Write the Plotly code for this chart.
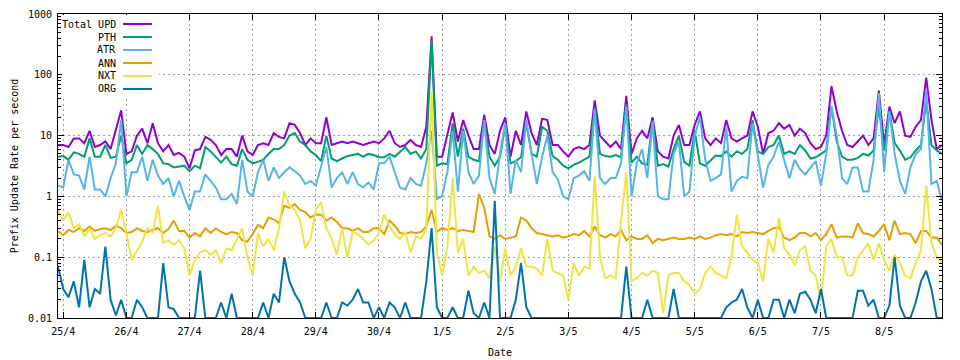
import plotly.graph_objects as go
import pandas as pd

# ---- data (2-hourly samples, 24/4 22:00 .. 8/5 22:00) ----
start_time = "2019-04-24 22:00"
n_points = 169

total_upd = [
    7, 7, 6.5, 9, 9, 7.5, 12, 6.5, 7, 8, 6, 12, 26, 5, 5.5, 10, 13, 7.5, 16, 7.5, 5.5, 7, 4.8, 5.2, 4.5, 2.9, 5.7, 6,
    9.5, 8.5, 7, 4.8, 6, 6, 4.5, 10, 5.5, 4.8, 7, 7.5, 7, 11, 9.5, 9, 16, 15, 11, 7, 9, 7.5, 7.5, 20, 7, 7.5, 8, 7.5,
    8, 7.5, 7, 7.5, 8, 7.5, 9, 12, 7.5, 6.5, 7, 8.5, 7, 6.5, 14, 430, 4.5, 4.5, 10, 24, 8, 18, 10, 6, 6, 22, 7, 5,
    12, 20, 4.5, 12, 7, 25, 11, 7, 19, 18, 7, 7, 5.5, 4.5, 6, 6.5, 6, 7, 38, 10, 8, 6.5, 8, 6, 45, 5, 9,
    12, 9, 20, 5.5, 4.5, 4.2, 10, 15, 7, 7, 15, 25, 9, 7, 9, 7.5, 18, 9, 8, 9, 10, 25, 14, 5, 11, 12, 16, 13,
    15, 10, 13, 11, 7.5, 6, 6.5, 10, 65, 25, 12, 7, 6.5, 8, 10, 7, 9, 55, 7, 30, 16, 25, 10, 9.5, 14, 18, 90, 18, 6, 7,
]
pth = [
    4.5, 4.6, 4, 5.3, 5, 4.5, 9, 4.5, 4.5, 7, 4.3, 4.5, 10, 3.5, 4, 7, 5, 7, 6, 5, 3.5, 3.4, 3, 3.1, 3.2, 2.6, 3.2, 2.9,
    6.5, 5.5, 4.5, 3.6, 4.5, 3.4, 3.2, 6, 4, 3.5, 3.7, 4, 5, 6, 6, 7, 10, 11, 8, 7, 5.5, 4.8, 3.8, 10, 4.2, 3.8, 4.2, 4.6,
    4.8, 5, 4.5, 5, 4.8, 4.4, 4.4, 5, 4.5, 5.5, 6.5, 5, 5.5, 4.2, 6, 365, 3.2, 3.5, 3.4, 16, 4.5, 13, 4.5, 4, 3.8, 17, 4.5, 3.2,
    4.5, 15, 3.5, 3.8, 4.4, 16, 5, 4.5, 14, 12, 4.6, 4, 3.2, 2.9, 3.3, 3.6, 4, 4.5, 30, 5, 4.6, 4.5, 4.8, 4.4, 33, 3.6, 4.5,
    3.5, 3.3, 18, 3.2, 3.4, 3.1, 6, 10, 3.7, 3.2, 12, 3.5, 3.2, 3.9, 4.7, 4.6, 5.5, 4.5, 5.5, 5, 6, 18, 5.5, 5, 6.5, 7, 10, 5,
    5.5, 5, 7, 5.7, 4.2, 4.4, 5, 5.7, 30, 8, 4.5, 4, 4, 4.3, 5, 4.7, 5.7, 30, 5.7, 25, 7.5, 5.7, 4, 4.4, 5.7, 7, 38, 7, 5.7, 5,
]
atr = [
    1.5, 1.4, 4, 2.3, 2.2, 1.3, 4.5, 1.3, 1.3, 1.0, 2, 3.5, 18, 1, 2.5, 2.5, 4.5, 1.8, 4, 2.2, 1.6, 2, 1.0, 1.8, 1.0, 0.6, 1.2, 1.2,
    2.3, 1.8, 1.4, 0.9, 0.9, 1.1, 0.75, 4, 1.2, 1, 2.5, 4, 1.8, 3, 2, 2.5, 3, 2.6, 2.2, 1.6, 1.8, 1.5, 3, 6.5, 1.4, 2, 2.5, 1.6,
    2.5, 1.6, 1.4, 1.7, 1.3, 3.5, 3.5, 4.5, 2.5, 1.4, 1.3, 2, 1.6, 1.5, 3.5, 12, 0.9, 1, 2.5, 12, 1.2, 12, 2.5, 1.6, 2.2, 18, 2, 1.1,
    5, 16, 1.1, 4, 2.5, 18, 5, 1.6, 4.5, 10, 2.5, 1.9, 1.0, 0.9, 2, 2.2, 2.6, 1.8, 27, 2, 1.6, 2, 2, 3.5, 30, 1, 3.5,
    6, 2, 17, 1.0, 0.9, 0.9, 5, 8, 1.0, 1.2, 10, 20, 4, 1.8, 2, 2.3, 14, 1.2, 1.8, 2.1, 2, 16, 4.5, 1.4, 3.3, 4.5, 8, 4,
    2, 4, 2.8, 2.3, 3, 3.8, 1.5, 5, 30, 10, 2, 1.6, 3, 3, 1.2, 1.2, 4, 50, 2.5, 25, 5, 1.8, 1.1, 3, 5, 6, 55, 1.6, 1.8, 0.85,
]
ann = [
    0.27, 0.23, 0.28, 0.26, 0.3, 0.27, 0.32, 0.27, 0.29, 0.3, 0.28, 0.33, 0.3, 0.25, 0.26, 0.3, 0.27, 0.26, 0.28, 0.3, 0.25, 0.29, 0.4, 0.27, 0.27, 0.21, 0.25, 0.22,
    0.3, 0.25, 0.3, 0.26, 0.24, 0.26, 0.25, 0.19, 0.18, 0.24, 0.34, 0.3, 0.45, 0.42, 0.36, 0.7, 0.65, 0.75, 0.6, 0.55, 0.45, 0.5, 0.5, 0.4, 0.45, 0.38, 0.3, 0.3,
    0.27, 0.3, 0.26, 0.26, 0.3, 0.3, 0.24, 0.4, 0.33, 0.25, 0.24, 0.26, 0.25, 0.26, 0.32, 0.6, 0.26, 0.3, 0.28, 0.3, 0.27, 0.28, 0.27, 0.26, 1.1, 0.65, 0.22, 0.2,
    0.23, 0.2, 0.21, 0.22, 0.45, 0.4, 0.3, 0.25, 0.24, 0.23, 0.22, 0.23, 0.21, 0.22, 0.24, 0.23, 0.27, 0.22, 0.32, 0.23, 0.21, 0.24, 0.22, 0.28, 0.19, 0.22, 0.2,
    0.2, 0.23, 0.17, 0.2, 0.19, 0.2, 0.21, 0.2, 0.2, 0.21, 0.2, 0.22, 0.2, 0.21, 0.23, 0.24, 0.23, 0.24, 0.22, 0.26, 0.25, 0.26, 0.25, 0.24, 0.27, 0.3, 0.31, 0.21,
    0.19, 0.21, 0.25, 0.25, 0.22, 0.25, 0.19, 0.24, 0.35, 0.21, 0.22, 0.22, 0.21, 0.36, 0.25, 0.24, 0.22, 0.27, 0.35, 0.19, 0.4, 0.24, 0.25, 0.24, 0.17, 0.27, 0.27, 0.21, 0.21, 0.16,
]
nxt = [
    0.6, 0.4, 0.55, 0.3, 0.35, 0.22, 0.3, 0.2, 0.23, 0.25, 0.22, 0.3, 0.6, 0.25, 0.09, 0.13, 0.18, 0.3, 0.25, 0.7, 0.17, 0.19, 0.16, 0.19, 0.14, 0.05, 0.09, 0.12,
    0.13, 0.11, 0.13, 0.08, 0.14, 0.13, 0.2, 0.3, 0.1, 0.05, 0.25, 0.15, 0.2, 0.13, 0.3, 1.2, 0.7, 0.6, 0.4, 0.14, 0.2, 0.6, 0.8, 0.3, 0.2, 0.11, 0.3, 0.1,
    0.26, 0.24, 0.2, 0.16, 0.19, 0.25, 0.5, 0.32, 0.24, 0.2, 0.26, 0.12, 0.22, 0.2, 0.3, 52, 0.12, 0.05, 0.15, 2, 0.12, 0.2, 0.05, 0.07, 0.055, 0.06, 0.045, 0.15,
    0.04, 0.14, 0.05, 0.07, 0.14, 0.07, 0.07, 0.065, 0.05, 0.2, 0.06, 0.055, 0.05, 0.02, 0.08, 0.05, 0.07, 0.065, 2.2, 0.1, 0.045, 0.05, 0.045, 0.4, 2.5, 0.04, 0.045,
    0.055, 0.05, 0.06, 0.055, 0.012, 0.05, 0.055, 0.055, 0.04, 0.035, 0.025, 0.03, 0.055, 0.07, 0.055, 0.05, 0.045, 0.1, 0.5, 0.15, 0.12, 0.09, 0.08, 0.04, 0.2, 0.12, 0.45, 0.14,
    0.11, 0.075, 0.13, 0.15, 0.06, 0.05, 0.02, 0.15, 0.2, 0.1, 0.1, 0.05, 0.05, 0.1, 0.13, 0.17, 0.09, 0.17, 0.09, 0.06, 0.11, 0.08, 0.05, 0.045, 0.08, 0.13, 1.5, 0.17, 0.1, 0.08,
]
org = [
    0.07, 0.03, 0.022, 0.04, 0.015, 0.09, 0.015, 0.03, 0.025, 0.15, 0.02, 0.011, 0.02, 0.01, 0.01, 0.02, 0.015, 0.01, 0.01, 0.01, 0.08, 0.015, 0.014, 0.01, 0.01, 0.01, 0.01, 0.06,
    0.01, 0.01, 0.01, 0.018, 0.01, 0.025, 0.01, 0.01, 0.01, 0.01, 0.01, 0.018, 0.01, 0.025, 0.018, 0.1, 0.04, 0.025, 0.018, 0.01, 0.01, 0.01, 0.01, 0.018, 0.01, 0.01, 0.018, 0.016,
    0.02, 0.03, 0.018, 0.018, 0.01, 0.015, 0.01, 0.018, 0.015, 0.01, 0.018, 0.01, 0.01, 0.01, 0.04, 0.3, 0.015, 0.01, 0.01, 0.015, 0.01, 0.01, 0.028, 0.012, 0.01, 0.018, 0.01, 0.85,
    0.01, 0.01, 0.01, 0.02, 0.08, 0.015,
    0.01, 0.01, 0.01, 0.01, 0.01, 0.01, 0.01, 0.01, 0.01, 0.01, 0.01, 0.01, 0.01, 0.01, 0.01, 0.01, 0.01, 0.01,
    0.07, 0.01, 0.01,
    0.01, 0.02, 0.01, 0.01, 0.01, 0.01, 0.03,
    0.01, 0.01, 0.01, 0.01, 0.01, 0.01, 0.01, 0.01, 0.01,
    0.015, 0.018, 0.02, 0.03, 0.015, 0.01, 0.02, 0.01, 0.01, 0.02, 0.02, 0.01,
    0.02, 0.012, 0.025, 0.027, 0.02, 0.012, 0.03, 0.01, 0.01, 0.01, 0.01, 0.01, 0.01, 0.028, 0.028, 0.016, 0.02, 0.01, 0.01, 0.016, 0.1, 0.016, 0.01, 0.01, 0.018, 0.04, 0.06, 0.03, 0.01, 0.01,
]

series_names = ["Total UPD", "PTH", "ATR", "ANN", "NXT", "ORG"]
series_colors = ["#9400D3", "#009E73", "#56B4E9", "#E69F00", "#F0E442", "#0072B2"]
series_values = [total_upd, pth, atr, ann, nxt, org]

x_tick_dates = ["2019-04-25", "2019-04-26", "2019-04-27", "2019-04-28", "2019-04-29", "2019-04-30",
                "2019-05-01", "2019-05-02", "2019-05-03", "2019-05-04", "2019-05-05", "2019-05-06",
                "2019-05-07", "2019-05-08"]
x_tick_labels = ["25/4", "26/4", "27/4", "28/4", "29/4", "30/4", "1/5", "2/5", "3/5", "4/5",
                 "5/5", "6/5", "7/5", "8/5"]
y_tick_vals = [0.01, 0.1, 1, 10, 100, 1000]
y_tick_labels = ["0.01", "0.1", "1", "10", "100", "1000"]

for v in series_values:
    assert len(v) == n_points, len(v)

time = pd.date_range(start_time, periods=n_points, freq="2h")

FONT = "DejaVu Sans Mono"
fig = go.Figure()
for name, vals, color in zip(series_names, series_values, series_colors):
    fig.add_trace(go.Scatter(x=time, y=vals, mode="lines", name=name,
                             line=dict(color=color, width=2), showlegend=False))

# custom key (text left, sample right) like gnuplot
key_right = 0.0679
key_rows = [0.9671, 0.9243, 0.8816, 0.8388, 0.7961, 0.7533]
shapes = [dict(type="rect", xref="paper", yref="paper", x0=0.0045, x1=0.1143, y0=0.727, y1=0.9967,
               fillcolor="white", line=dict(width=0), layer="above")]
annotations = []
for name, color, yy in zip(series_names, series_colors, key_rows):
    annotations.append(dict(xref="paper", yref="paper", x=key_right, y=yy, text=name, showarrow=False,
                            xanchor="right", yanchor="middle", font=dict(family=FONT, size=10, color="black")))
    shapes.append(dict(type="line", xref="paper", yref="paper", x0=0.0735, x1=0.1063, y0=yy, y1=yy,
                       line=dict(color=color, width=2), layer="above"))

minor_vals = [m * 10 ** e for e in range(-2, 3) for m in range(2, 10)]

fig.update_layout(
    width=960, height=360,
    margin=dict(l=58, r=18, t=14, b=42, autoexpand=False),
    paper_bgcolor="white", plot_bgcolor="white",
    font=dict(family=FONT, size=10, color="black"),
    shapes=shapes, annotations=annotations,
    showlegend=False,
    xaxis=dict(
        range=[time[0], time[-1]], automargin=False,
        tickmode="array", tickvals=x_tick_dates, ticktext=x_tick_labels,
        ticks="inside", ticklen=6, tickcolor="black", ticklabelstandoff=4,
        showline=True, linecolor="black", linewidth=1, mirror="allticks",
        showgrid=True, gridcolor="#a0a0a0", griddash="2px,3px", gridwidth=1,
        zeroline=False,
        tickfont=dict(family=FONT, size=10),
        title=dict(text="Date", font=dict(family=FONT, size=10), standoff=12),
    ),
    yaxis=dict(
        type="log", range=[-2, 3], automargin=False,
        tickmode="array", tickvals=y_tick_vals, ticktext=y_tick_labels,
        ticks="inside", ticklen=6, tickcolor="black", ticklabelstandoff=3,
        minor=dict(ticks="inside", ticklen=3, tickcolor="black", tickvals=minor_vals, showgrid=False),
        showline=True, linecolor="black", linewidth=1, mirror="allticks",
        showgrid=True, gridcolor="#a0a0a0", griddash="2px,3px", gridwidth=1,
        zeroline=False,
        tickfont=dict(family=FONT, size=10),
        title=dict(text="Prefix Update Rate per second", font=dict(family=FONT, size=10), standoff=7),
    ),
)

fig.write_html("out.html", config={"displayModeBar": False},
               post_script="document.body.style.margin='0';document.body.style.overflow='hidden';")
